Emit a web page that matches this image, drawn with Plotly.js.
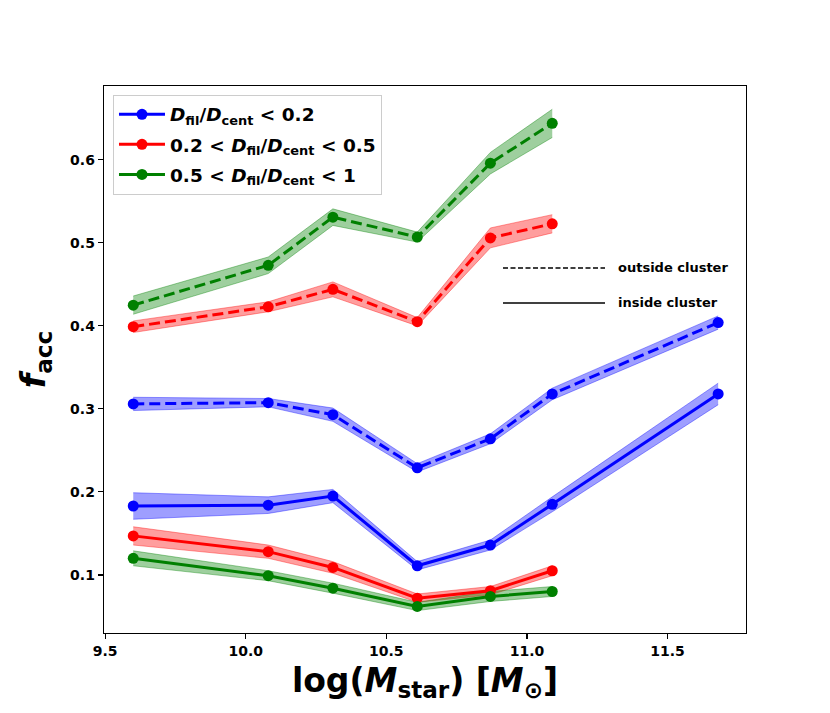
<!DOCTYPE html>
<html>
<head>
<meta charset="utf-8">
<script src="https://cdn.plot.ly/plotly-3.0.1.min.js"></script>
<style>html,body{margin:0;padding:0;background:#fff}#chart{width:830px;height:713px}</style>
</head>
<body>
<div id="chart"></div>
<script>
// log stellar mass bins
const massAll = [9.6, 10.08, 10.31, 10.61, 10.87, 11.09, 11.68];
const massShort = [9.6, 10.08, 10.31, 10.61, 10.87, 11.09];

// D_fil/D_cent < 0.2 (blue)
const blueOut = [0.306, 0.3075, 0.293, 0.229, 0.264, 0.318, 0.404];
const blueOutErr = [0.008, 0.005, 0.008, 0.005, 0.006, 0.007, 0.008];
const blueIn = [0.183, 0.184, 0.195, 0.111, 0.136, 0.185, 0.318];
const blueInErr = [0.016, 0.010, 0.008, 0.005, 0.006, 0.009, 0.013];

// 0.2 < D_fil/D_cent < 0.5 (red)
const redOut = [0.399, 0.423, 0.444, 0.405, 0.506, 0.523];
const redOutErr = [0.007, 0.006, 0.009, 0.005, 0.012, 0.011];
const redIn = [0.147, 0.128, 0.109, 0.072, 0.081, 0.105];
const redInErr = [0.011, 0.008, 0.007, 0.005, 0.005, 0.006];

// 0.5 < D_fil/D_cent < 1 (green)
const greenOut = [0.425, 0.473, 0.531, 0.507, 0.596, 0.644];
const greenOutErr = [0.011, 0.010, 0.010, 0.006, 0.013, 0.017];
const greenIn = [0.120, 0.099, 0.084, 0.062, 0.074, 0.080];
const greenInErr = [0.009, 0.006, 0.006, 0.005, 0.006, 0.006];

const labels = [
  '<i>D</i><sub>fil</sub>/<i>D</i><sub>cent</sub> &lt; 0.2',
  '0.2 &lt; <i>D</i><sub>fil</sub>/<i>D</i><sub>cent</sub> &lt; 0.5',
  '0.5 &lt; <i>D</i><sub>fil</sub>/<i>D</i><sub>cent</sub> &lt; 1'
];

const series = [
  {x: massAll, out: blueOut, outErr: blueOutErr, inn: blueIn, innErr: blueInErr, color: '#0000ff', fill: 'rgba(0,0,255,0.38)', name: labels[0], group: 'g1'},
  {x: massShort, out: redOut, outErr: redOutErr, inn: redIn, innErr: redInErr, color: '#ff0000', fill: 'rgba(255,0,0,0.38)', name: labels[1], group: 'g2'},
  {x: massShort, out: greenOut, outErr: greenOutErr, inn: greenIn, innErr: greenInErr, color: '#008000', fill: 'rgba(0,128,0,0.38)', name: labels[2], group: 'g3'}
];

const traces = [];
function band(x, y, e, fill) {
  traces.push({x: x, y: y.map((v, i) => v - e[i]), mode: 'lines', line: {width: 1, color: fill}, showlegend: false, hoverinfo: 'skip'});
  traces.push({x: x, y: y.map((v, i) => v + e[i]), mode: 'lines', line: {width: 1, color: fill}, fill: 'tonexty', fillcolor: fill, showlegend: false, hoverinfo: 'skip'});
}
series.forEach(s => { band(s.x, s.out, s.outErr, s.fill); band(s.x, s.inn, s.innErr, s.fill); });

function line(s, y, dash, legend) {
  traces.push({
    x: s.x, y: y, mode: 'lines+markers', name: s.name, showlegend: legend, legendgroup: s.group,
    line: {color: s.color, width: 3, dash: dash},
    marker: {color: s.color, size: 11, symbol: 'circle'},
    error_x: {type: 'constant', value: 0.012, color: s.color, thickness: 2, width: 0},
    error_y: {type: 'constant', value: 0.002, color: s.color, thickness: 2, width: 4}
  });
}
series.forEach(s => { line(s, s.out, '11px,5px', false); line(s, s.inn, 'solid', true); });

const font = {family: 'DejaVu Sans', color: '#000'};

const layout = {
  width: 830, height: 713,
  margin: {l: 104, r: 84, t: 86, b: 80},
  paper_bgcolor: '#fff', plot_bgcolor: '#fff',
  font: font,
  showlegend: true,
  legend: {
    x: 0.014, y: 0.984, xanchor: 'left', yanchor: 'top',
    traceorder: 'grouped',
    bgcolor: 'rgba(255,255,255,0.9)', bordercolor: '#cccccc', borderwidth: 1,
    font: {family: 'DejaVu Sans', size: 18.5, color: '#000', weight: 'bold'},
    itemwidth: 46, tracegroupgap: 3
  },
  xaxis: {
    range: [9.496, 11.779], tickvals: [9.5, 10.0, 10.5, 11.0, 11.5], ticktext: ['9.5', '10.0', '10.5', '11.0', '11.5'],
    showline: true, mirror: true, linecolor: '#000', linewidth: 1.3, showgrid: false, zeroline: false,
    ticks: 'outside', ticklen: 5, tickwidth: 1.2, tickcolor: '#000',
    tickfont: {family: 'DejaVu Sans', size: 14, color: '#000', weight: 'bold'},
    title: {text: 'log(<i>M</i><sub>star</sub>) [<i>M</i><sub>⊙</sub>]', font: {family: 'DejaVu Sans', size: 33, color: '#000', weight: 'bold'}, standoff: 10}
  },
  yaxis: {
    range: [0.030, 0.689], tickvals: [0.1, 0.2, 0.3, 0.4, 0.5, 0.6], ticktext: ['0.1', '0.2', '0.3', '0.4', '0.5', '0.6'],
    showline: true, mirror: true, linecolor: '#000', linewidth: 1.3, showgrid: false, zeroline: false,
    ticks: 'outside', ticklen: 5, tickwidth: 1.2, tickcolor: '#000',
    tickfont: {family: 'DejaVu Sans', size: 14, color: '#000', weight: 'bold'},
    title: {text: '<i>f</i><sub>acc</sub>', font: {family: 'DejaVu Sans', size: 33, color: '#000', weight: 'bold'}, standoff: 14}
  },
  shapes: [
    {type: 'line', xref: 'paper', yref: 'paper', x0: 0.6215, x1: 0.7804, y0: 0.6673, y1: 0.6673, line: {color: '#000', width: 1.6, dash: '5px,2.5px'}},
    {type: 'line', xref: 'paper', yref: 'paper', x0: 0.6215, x1: 0.7804, y0: 0.6033, y1: 0.6033, line: {color: '#000', width: 1.6}}
  ],
  annotations: [
    {xref: 'paper', yref: 'paper', x: 0.797, y: 0.6673, xanchor: 'left', yanchor: 'middle', showarrow: false, text: 'outside cluster', font: {family: 'DejaVu Sans', size: 13, color: '#000', weight: 'bold'}},
    {xref: 'paper', yref: 'paper', x: 0.797, y: 0.6033, xanchor: 'left', yanchor: 'middle', showarrow: false, text: 'inside cluster', font: {family: 'DejaVu Sans', size: 13, color: '#000', weight: 'bold'}}
  ]
};

Plotly.newPlot('chart', traces, layout, {displayModeBar: false, staticPlot: true});
</script>
</body>
</html>
